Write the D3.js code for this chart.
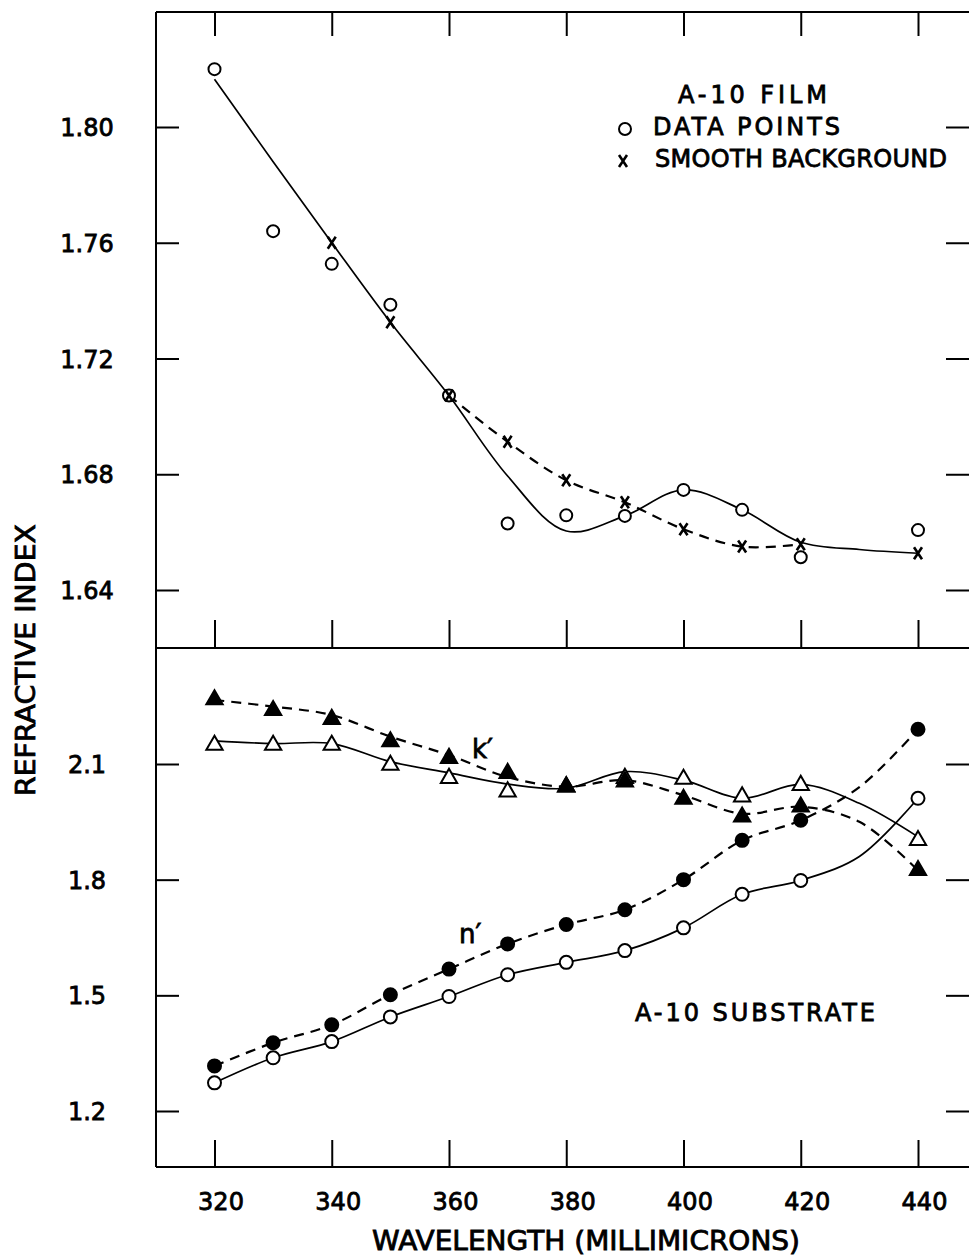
<!DOCTYPE html>
<html>
<head>
<meta charset="utf-8">
<script src="https://cdn.jsdelivr.net/npm/d3@7"></script>
<style>
  body { margin: 0; background: #fff; }
  svg { display: block; }
  text { font-family: "DejaVu Sans", sans-serif; fill: #000; }
</style>
</head>
<body>
<svg id="chart"></svg>
<script>
const width = 969, height = 1257;

// shared x axis (wavelength, millimicrons)
const xTicks = [320, 340, 360, 380, 400, 420, 440];
const pointWl = [320, 330, 340, 350, 360, 370, 380, 390, 400, 410, 420, 440];
const curveWl = [320, 330, 340, 350, 360, 370, 380, 390, 400, 410, 420, 430, 440];

// top panel: A-10 film
const filmTicks = [1.64, 1.68, 1.72, 1.76, 1.80];
const filmPoints = [1.820, 1.764, 1.7527, 1.7386, 1.7072, 1.663, 1.6658, 1.6656, 1.6746, 1.6677, 1.6513, 1.6607];
const bgWl = [340, 350, 360, 370, 380, 390, 400, 410, 420, 440];
const bgPoints = [1.760, 1.7325, 1.7072, 1.6912, 1.6779, 1.6703, 1.661, 1.655, 1.6558, 1.6527];
const filmCurve = [1.8165, 1.788, 1.760, 1.7325, 1.7072, 1.6794, 1.6604, 1.6656, 1.6746, 1.6677, 1.6565, 1.654, 1.6527];
const bgCurveWl = [360, 370, 380, 390, 400, 410, 420];
const bgCurve = [1.7072, 1.6912, 1.6779, 1.6703, 1.661, 1.655, 1.6558];

// bottom panel: A-10 substrate
const subTicks = [1.2, 1.5, 1.8, 2.1];
const kOpen   = [2.149, 2.149, 2.149, 2.097, 2.063, 2.028, 2.041, 2.063, 2.061, 2.015, 2.045, 1.902];
const kFilled = [2.267, 2.239, 2.216, 2.158, 2.115, 2.076, 2.041, 2.054, 2.009, 1.963, 1.989, 1.824];
const nOpen   = [1.273, 1.338, 1.38, 1.444, 1.497, 1.5535, 1.5856, 1.616, 1.675, 1.762, 1.798, 2.011];
const nFilled = [1.317, 1.377, 1.4234, 1.5015, 1.568, 1.6334, 1.6837, 1.722, 1.80, 1.902, 1.954, 2.19];
const kSolidCurve  = [2.16, 2.153, 2.153, 2.106, 2.077, 2.048, 2.037, 2.080, 2.058, 2.011, 2.047, 1.998, 1.911];
const kDashedCurve = [2.266, 2.249, 2.227, 2.171, 2.123, 2.066, 2.041, 2.058, 2.019, 1.971, 1.989, 1.950, 1.824];
const nSolidCurve  = [1.273, 1.338, 1.38, 1.444, 1.497, 1.5535, 1.5856, 1.616, 1.675, 1.762, 1.798, 1.86, 2.011];
const nDashedCurve = [1.317, 1.377, 1.4234, 1.5015, 1.568, 1.6334, 1.6837, 1.722, 1.80, 1.902, 1.954, 2.04, 2.19];

const frame = { left: 156, right: 971, top: 12, mid: 648, bottom: 1167 };
const textStroke = 0.8;

const svg = d3.select('#chart')
  .attr('width', width)
  .attr('height', height)
  .attr('viewBox', `0 0 ${width} ${height}`);

svg.append('rect').attr('width', width).attr('height', height).attr('fill', '#fff');

const x = d3.scaleLinear().domain([320, 440]).range([214.5, 918]);
const yTop = d3.scaleLinear().domain([1.64, 1.80]).range([590, 127]);
const yBot = d3.scaleLinear().domain([1.2, 2.1]).range([1111, 764]);

// frame
const fr = svg.append('g').attr('stroke', '#000').attr('stroke-width', 2).attr('fill', 'none');
fr.append('line').attr('x1', frame.left).attr('x2', frame.left).attr('y1', frame.top).attr('y2', frame.bottom);
[frame.top, frame.mid, frame.bottom].forEach(y =>
  fr.append('line').attr('x1', frame.left).attr('x2', frame.right).attr('y1', y).attr('y2', y));

function styleAxis(g) {
  g.select('.domain').remove();
  g.selectAll('.tick line').attr('stroke', '#000').attr('stroke-width', 2);
}
function styleText(sel) {
  sel.attr('font-size', 24).attr('font-family', '"DejaVu Sans", sans-serif')
    .attr('fill', '#000').attr('stroke', '#000').attr('stroke-width', textStroke);
}

// x ticks (top edge, middle line, bottom edge)
svg.append('g').attr('transform', `translate(0,${frame.top})`)
  .call(d3.axisTop(x).tickValues(xTicks).tickSize(-24).tickFormat(''))
  .call(styleAxis);
svg.append('g').attr('transform', `translate(0,${frame.mid})`)
  .call(d3.axisBottom(x).tickValues(xTicks).tickSize(-28).tickFormat(''))
  .call(styleAxis);
svg.append('g').attr('transform', `translate(0,${frame.bottom})`)
  .call(d3.axisBottom(x).tickValues(xTicks).tickSize(-27).tickFormat(d3.format('d')))
  .call(styleAxis)
  .call(g => g.selectAll('.tick text')
    .attr('y', 43).attr('dy', null).attr('x', 6)
    .call(styleText));

// y ticks, left labelled, right plain
function yAxes(scale, ticks, fmt) {
  svg.append('g').attr('transform', `translate(${frame.left},0)`)
    .call(d3.axisLeft(scale).tickValues(ticks).tickSize(-23).tickFormat(d3.format(fmt)))
    .call(styleAxis)
    .call(g => g.selectAll('.tick text')
      .attr('x', -69).attr('dy', '0.36em').attr('text-anchor', 'middle')
      .call(styleText));
  svg.append('g').attr('transform', `translate(969,0)`)
    .call(d3.axisRight(scale).tickValues(ticks).tickSize(-23).tickFormat(''))
    .call(styleAxis);
}
yAxes(yTop, filmTicks, '.2f');
yAxes(yBot, subTicks, '.1f');

// helpers
const curve = d3.curveCatmullRom.alpha(0.5);
function drawLine(wl, vals, scale, dashed) {
  const pts = wl.map((w, i) => [w, vals[i]]);
  svg.append('path')
    .datum(pts)
    .attr('fill', 'none')
    .attr('stroke', '#000')
    .attr('stroke-width', dashed ? 2.2 : 1.7)
    .attr('stroke-dasharray', dashed ? '10,7' : null)
    .attr('d', d3.line().x(d => x(d[0])).y(d => scale(d[1])).curve(curve));
}
function drawCircles(wl, vals, scale, filled, r = 6) {
  svg.append('g').selectAll('circle')
    .data(wl.map((w, i) => [w, vals[i]]))
    .join('circle')
    .attr('cx', d => x(d[0])).attr('cy', d => scale(d[1]))
    .attr('r', r)
    .attr('fill', filled ? '#000' : '#fff')
    .attr('stroke', '#000').attr('stroke-width', 2);
}
const triangle = d3.symbol(d3.symbolTriangle, 115);
function drawTriangles(wl, vals, scale, filled) {
  svg.append('g').selectAll('path')
    .data(wl.map((w, i) => [w, vals[i]]))
    .join('path')
    .attr('transform', d => `translate(${x(d[0])},${scale(d[1])})`)
    .attr('d', triangle)
    .attr('fill', filled ? '#000' : '#fff')
    .attr('stroke', '#000').attr('stroke-width', 2).attr('stroke-linejoin', 'miter');
}
const crossPath = 'M-4,-6L4,6M4,-6L-4,6';
function drawCrosses(wl, vals, scale) {
  svg.append('g').selectAll('path')
    .data(wl.map((w, i) => [w, vals[i]]))
    .join('path')
    .attr('transform', d => `translate(${x(d[0])},${scale(d[1])})`)
    .attr('d', crossPath)
    .attr('fill', 'none').attr('stroke', '#000').attr('stroke-width', 2.6);
}

// top panel
drawLine(curveWl, filmCurve, yTop, false);
drawLine(bgCurveWl, bgCurve, yTop, true);
drawCircles(pointWl, filmPoints, yTop, false);
drawCrosses(bgWl, bgPoints, yTop);

// bottom panel
drawLine(curveWl, kSolidCurve, yBot, false);
drawLine(curveWl, kDashedCurve, yBot, true);
drawLine(curveWl, nSolidCurve, yBot, false);
drawLine(curveWl, nDashedCurve, yBot, true);
drawTriangles(pointWl, kOpen, yBot, false);
drawTriangles(pointWl, kFilled, yBot, true);
drawCircles(pointWl, nOpen, yBot, false, 6.5);
drawCircles(pointWl, nFilled, yBot, true, 6.5);

// text
function label(str, xPos, yPos, size = 24, extra = {}) {
  const t = svg.append('text').attr('x', xPos).attr('y', yPos)
    .attr('font-size', size).attr('stroke', '#000').attr('stroke-width', textStroke)
    .text(str);
  Object.entries(extra).forEach(([k, v]) => t.attr(k, v));
  return t;
}
const spaced = w => ({ textLength: w, lengthAdjust: 'spacing' });

// legend
label('A-10 FILM', 678, 103, 24, spaced(149));
svg.append('circle').attr('cx', 625).attr('cy', 129).attr('r', 6)
  .attr('fill', '#fff').attr('stroke', '#000').attr('stroke-width', 2);
label('DATA POINTS', 653, 135, 24, spaced(187));
svg.append('path').attr('transform', 'translate(623,161)').attr('d', crossPath)
  .attr('fill', 'none').attr('stroke', '#000').attr('stroke-width', 2.6);
label('SMOOTH BACKGROUND', 655, 167, 24, spaced(292));

label('A-10 SUBSTRATE', 635, 1021, 24, spaced(240));
label('k\u2032', 472, 758, 26);
label('n\u2032', 459, 943, 26);

// axis titles
label('WAVELENGTH (MILLIMICRONS)', 586, 1250, 26,
  { 'text-anchor': 'middle', textLength: 428, lengthAdjust: 'spacingAndGlyphs' });
label('REFRACTIVE INDEX', 0, 0, 26,
  { 'text-anchor': 'middle', transform: 'translate(35,660) rotate(-90)', textLength: 272, lengthAdjust: 'spacingAndGlyphs' });
</script>
</body>
</html>
